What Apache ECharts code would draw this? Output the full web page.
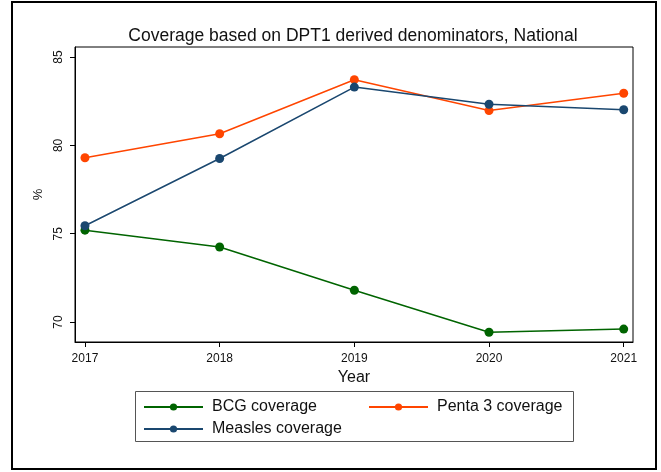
<!DOCTYPE html>
<html>
<head>
<meta charset="utf-8">
<script src="https://cdn.jsdelivr.net/npm/echarts@6/dist/echarts.min.js"></script>
<style>html,body{margin:0;padding:0;background:#fff}#c{width:661px;height:472px}</style>
</head>
<body>
<div id="c"></div>
<script>
var years = [2017, 2018, 2019, 2020, 2021];
var bcg = [75.2, 74.25, 71.8, 69.42, 69.6];
var penta = [79.3, 80.66, 83.72, 81.97, 82.95];
var measles = [75.45, 79.26, 83.3, 82.33, 82.02];
var yTicks = [70, 75, 80, 85];

function pts(v){ return years.map(function(y,i){ return [y, v[i]]; }); }
var FONT = 'Liberation Sans, Arial, sans-serif';
var chart = echarts.init(document.getElementById('c'), null, {renderer:'canvas'});
function mkSeries(name, vals, color){
  return {name:name, type:'line', data:pts(vals), symbol:'circle', symbolSize:9,
    lineStyle:{color:color, width:1.5}, itemStyle:{color:color}, animation:false};
}
function mkLegend(name, left, top){
  return {data:[name], left:left, top:top, itemWidth:59, itemHeight:9, itemGap:10,
    textStyle:{fontFamily:FONT, fontSize:16, color:'#111', padding:[0,0,0,4]}, padding:0, selectedMode:false};
}
chart.setOption({
  animation:false,
  title:{text:'Coverage based on DPT1 derived denominators, National', left:348, top:22, textAlign:'center',
    textStyle:{fontFamily:FONT, fontSize:17.5, fontWeight:'normal', color:'#111'}},
  grid:{left:75, top:47, right:28, bottom:130, show:true, borderColor:'#000', borderWidth:1},
  xAxis:{type:'value', min:2016.926, max:2021.069, name:'Year', nameLocation:'middle', nameGap:27,
    nameTextStyle:{fontFamily:FONT, fontSize:16, color:'#111'},
    axisLine:{lineStyle:{color:'#000'}}, splitLine:{show:false},
    axisTick:{customValues:years, length:5, lineStyle:{color:'#000'}},
    axisLabel:{customValues:years, fontFamily:FONT, fontSize:12, color:'#111', margin:11, formatter:function(v){return String(v);}}},
  yAxis:{type:'value', min:68.87, max:85.57, name:'%', nameLocation:'middle', nameGap:30, nameRotate:90,
    nameTextStyle:{fontFamily:FONT, fontSize:13, color:'#111'},
    axisLine:{show:true, lineStyle:{color:'#000'}}, splitLine:{show:false},
    axisTick:{show:true, customValues:yTicks, length:5, lineStyle:{color:'#000'}},
    axisLabel:{customValues:yTicks, rotate:90, fontFamily:FONT, fontSize:12, color:'#111', margin:10}},
  legend:[mkLegend('BCG coverage', 143, 399), mkLegend('Penta 3 coverage', 368, 399), mkLegend('Measles coverage', 143, 421)],
  graphic:[
    {type:'rect', shape:{x:12, y:2, width:644, height:467}, style:{fill:null, stroke:'#000', lineWidth:2}, silent:true},
    {type:'rect', shape:{x:135.5, y:391.5, width:438, height:50}, style:{fill:null, stroke:'#555', lineWidth:1}, silent:true}
  ],
  series:[mkSeries('BCG coverage', bcg, '#006400'), mkSeries('Penta 3 coverage', penta, '#ff4500'), mkSeries('Measles coverage', measles, '#1a476f')]
});
</script>
</body>
</html>
